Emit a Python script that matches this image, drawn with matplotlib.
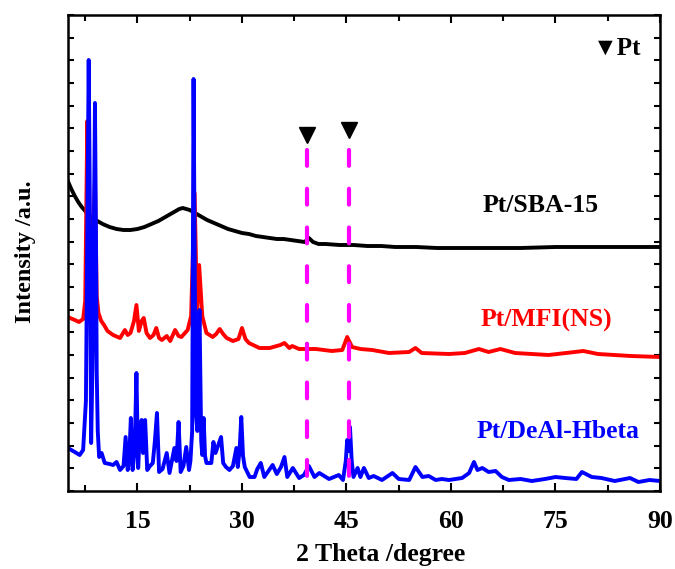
import matplotlib
matplotlib.use('Agg')
import matplotlib.pyplot as plt
import numpy as np

plt.rcParams['font.family'] = ['Liberation Serif', 'DejaVu Sans']
plt.rcParams['font.weight'] = 'bold'

# 2-theta positions and stacked intensities (a.u., offset per sample)
sba_2theta = [5, 5.5, 6, 6.5, 7, 7.5, 8, 9, 10, 11, 12, 13, 14, 15, 16, 17, 18, 19, 20, 20.5,
              21, 21.5, 22, 22.5, 23, 24, 25, 26, 27, 28, 29, 30, 31, 32, 33, 34, 35, 36, 37, 38,
              39, 39.6, 40.2, 41, 42, 44, 46, 48, 50, 52, 55, 58, 60, 63, 66, 70, 75, 80, 85, 90]
sba_int = [310, 302, 295, 289, 284, 280, 276, 271, 267, 264, 262, 261, 261, 262, 264, 267, 270, 274, 278, 280,
           282, 283, 282, 281, 279, 275, 271, 268, 265, 262, 260, 258, 257, 255, 254, 253, 252, 252, 251, 250,
           249, 253, 249, 247, 247, 246, 246, 245, 245, 244, 244, 243, 243, 243, 243, 243, 244, 244, 244, 244]

mfi_2theta = [5, 6, 6.6, 7.2, 7.5, 7.8, 8.1, 8.35, 8.6, 8.9, 9.15, 9.4, 9.8, 10.2, 10.7, 11.5, 12.5, 13.2, 13.6, 14.0,
              14.5, 14.85, 15.2, 15.6, 15.9, 16.3, 16.8, 17.3, 17.7, 18.1, 18.5, 19.2, 19.7, 20.4, 20.9, 21.3, 22.2, 22.7, 23.2, 23.55,
              23.85, 24.3, 24.9, 25.8, 26.3, 26.8, 27.3, 27.8, 28.7, 29.5, 30.0, 30.5, 31.0, 32.5, 34, 35.5, 36.1, 36.8, 37.2,
              38.2, 40.6, 42.9, 44.4, 45.1, 45.8, 47, 48.7, 51.1, 54, 54.9, 55.8, 59.7, 62, 64, 65.4, 67.1, 69.2, 74, 79,
              81.1, 85.8, 90]
mfi_int = [174, 171, 169, 172, 190, 370, 276, 215, 250, 310, 195, 178, 170, 166, 160, 156, 153, 161, 156, 158,
           170, 186, 160, 170, 173, 158, 153, 156, 163, 153, 151, 155, 150, 161, 155, 154, 161, 175, 298, 178,
           226, 175, 158, 154, 157, 162, 157, 153, 150, 152, 163, 152, 148, 143, 143, 146, 148, 143, 145,
           142, 142, 140, 141, 154, 144, 142, 141, 138, 139, 143, 138, 137, 138, 142, 139, 142, 138, 136, 140,
           137, 135, 134]

hbeta_2theta = [5, 6, 6.7, 7.2, 7.6, 7.85, 8.0, 8.15, 8.35, 8.6, 8.9, 9.05, 9.15, 9.3, 9.5, 9.85, 10.3, 11.0, 11.5, 12.0,
                12.5, 13.0, 13.3, 13.6, 13.8, 14.05, 14.3, 14.6, 14.85, 15.1, 15.35, 15.6, 15.8, 16.1, 16.4, 16.8, 17.2, 17.5, 17.8, 18.1,
                18.6, 19.2, 19.6, 20.3, 20.6, 20.9, 21.2, 21.6, 22.0, 22.4, 22.6, 22.85, 23.05, 23.35, 23.6, 23.9, 24.15, 24.3, 24.5,
                24.7, 24.9, 25.3, 25.6, 25.9, 26.2, 26.5, 27.0, 27.3, 27.7, 28.2, 28.7, 29.2, 29.4, 29.65, 29.9, 30.15, 30.4, 31.1, 31.8,
                32.2, 32.7, 33.2, 33.8, 34.4, 35.0, 35.6, 36.1, 36.5, 37.3, 38.2, 38.9, 39.6, 40.4, 41.1, 42.5, 43.9, 44.5, 44.9, 45.1,
                45.35, 45.5, 45.75, 46.0, 46.6, 47.0, 47.5, 48.2, 48.9, 50.1, 51.6, 52.5, 54.0, 54.9, 55.9, 56.8, 57.8, 58.7, 59.7, 61.6,
                62.6, 63.3, 63.8, 64.5, 65.4, 66.4, 67.3, 68.3, 70, 71.6, 73.5, 75, 76.4, 78, 78.8, 80.2, 81.6, 83.5, 85.7, 86.9,
                88.5, 90]
hbeta_int = [43, 39, 36, 41, 90, 300, 431, 300, 48, 150, 388, 250, 119, 60, 34, 38, 28, 27, 26, 29,
             21, 25, 54, 21, 30, 73, 21, 40, 118, 23, 60, 71, 38, 71, 21, 25, 28, 50, 78, 19,
             22, 38, 18, 43, 30, 69, 19, 25, 44, 21, 30, 60, 412, 80, 60, 181, 50, 36, 73,
             35, 28, 28, 28, 49, 38, 44, 54, 28, 24, 21, 25, 43, 24, 40, 74, 35, 24, 14, 14,
             22, 28, 14, 20, 26, 17, 24, 34, 14, 23, 13, 16, 25, 14, 18, 12, 16, 11, 30, 51,
             40, 64, 30, 14, 23, 14, 23, 13, 15, 11, 18, 12, 11, 24, 14, 15, 11, 12, 11, 13,
             18, 29, 21, 23, 19, 20, 14, 11, 12, 10, 12, 14, 13, 12, 19, 14, 13, 10, 13, 9,
             11, 10]

# Pt reflections marked with dashed guides
pt_2theta = [39.4, 45.4]
pt_marker_int = [356, 361]

fig = plt.figure(figsize=(6.75, 5.69), dpi=100)
ax = fig.add_axes([67.8 / 675, 78 / 569, 592.2 / 675, 476 / 569])

ax.plot(sba_2theta, sba_int, color='black', lw=2.8)
ax.plot(mfi_2theta, mfi_int, color='red', lw=2.8)
ax.plot(hbeta_2theta, hbeta_int, color='blue', lw=2.8)

for x in pt_2theta:
    ax.plot([x, x], [341, 4], color='#ff00ff', lw=3, dashes=(3.8, 5.5),
            dash_capstyle='round')
ax.plot(pt_2theta, pt_marker_int, 'v', color='black', ms=11, ls='none')

tfont = dict(fontsize=18.5, fontweight='bold')
ax.text(72.8, 286, 'Pt/SBA-15', color='black', ha='center', va='center', **tfont)
ax.text(73.7, 171, 'Pt/MFI(NS)', color='red', ha='center', va='center', **tfont)
ax.text(75.4, 59, 'Pt/DeAl-Hbeta', color='blue', ha='center', va='center', **tfont)
ax.text(80.4, 443, '▼Pt', color='black', ha='left', va='center', fontsize=18, fontweight='bold')

ax.set_xlim(5, 90)
ax.set_ylim(0, 476)
ax.set_xticks([15, 30, 45, 60, 75, 90])
ax.set_xticks([7.5, 22.5, 37.5, 52.5, 67.5, 82.5], minor=True)
ax.set_yticks(np.linspace(0, 476, 22))
ax.set_yticklabels([])
ax.tick_params(axis='both', which='both', direction='in', top=True, right=True, width=1.5)
ax.tick_params(axis='x', which='major', length=6, labelsize=18.5, pad=14)
ax.tick_params(axis='x', which='minor', length=4)
ax.tick_params(axis='y', length=4)
for lab in ax.get_xticklabels():
    lab.set_fontweight('bold')
for sp in ax.spines.values():
    sp.set_linewidth(1.8)

fig.text(381 / 675, 1 - 555 / 569, '2 Theta /degree', ha='center', va='center', fontsize=18.5, fontweight='bold')
fig.text(25 / 675, 1 - 252 / 569, 'Intensity /a.u.', ha='center', va='center', rotation=90,
         fontsize=17.5, fontweight='bold')

fig.savefig('out.png', dpi=100)
